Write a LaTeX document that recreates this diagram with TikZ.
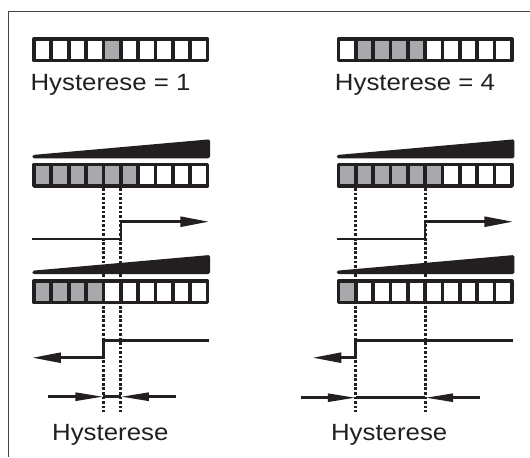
\documentclass[tikz,border=0pt]{standalone}
\usepackage{fontspec}
\newfontfamily\lab[FakeStretch=1.1]{Liberation Sans}
\usetikzlibrary{arrows.meta}
\definecolor{ink}{RGB}{35,31,32}
\definecolor{cellgray}{RGB}{167,169,172}
\definecolor{framegray}{RGB}{70,70,70}
\newcommand\mybar[3]{%
  \foreach \g in {#3} {\fill[cellgray] ({#1+\g*17.35},#2) rectangle ++(17.35,21.4);}
  \draw[barline] (#1,#2) rectangle ++(173.5,21.4);
  \foreach \k in {1,...,9} {\draw[barline] ({#1+\k*17.35},#2) -- ++(0,21.4);}
}
\begin{document}
\begin{tikzpicture}[x=0.75pt,y=-0.75pt,
  barline/.style={ink,line width=2.8pt,line join=round},
  sig/.style={ink,line width=1.9pt},
  sigarrow/.style={sig,-{Triangle[length=21.5pt,width=7.5pt]}},
  measarrow/.style={sig,-{Triangle[length=21pt,width=6pt]}},
  dots/.style={ink,line width=2.1pt,dash pattern=on 2pt off 1.4pt},
  ramp/.style={fill=ink,rounded corners=1.2pt},
  lbl/.style={inner sep=0pt,font=\lab\fontsize{17.6}{20}\selectfont,text=ink}]
\useasboundingbox (0,0) rectangle (530,457);
\fill[white] (0,0) rectangle (530,457);
% frame
\draw[framegray,line width=1pt] (8.7,457) -- (8.7,11.3) -- (530,11.3);

% named coordinates (dotted guide positions)
\coordinate (LA) at (103.4,188);  \coordinate (LAe) at (103.4,412);
\coordinate (LB) at (120.8,188);  \coordinate (LBe) at (120.8,412);
\coordinate (RA) at (355.75,188); \coordinate (RAe) at (355.75,412);
\coordinate (RB) at (425.15,188); \coordinate (RBe) at (425.15,412);

% dotted guides
\draw[dots] (LA) -- (LAe);
\draw[dots] (LB) -- (LBe);
\draw[dots] (RA) -- (RAe);
\draw[dots] (RB) -- (RBe);

% top bars
\mybar{34}{39.2}{4}
\mybar{338.4}{39.2}{1,2,3,4}
\node[lbl,anchor=base west] (t1) at (30.3,90) {Hysterese = 1};
\node[lbl,anchor=base west] (t4) at (334.7,90) {Hysterese = 4};

% ramps
\fill[ramp] (32.3,158.3) -- (210,158.3) -- (210,139.3) -- (32.3,155) -- cycle;
\fill[ramp] (336.7,158.3) -- (514.4,158.3) -- (514.4,139.3) -- (336.7,155) -- cycle;
\fill[ramp] (32.3,274) -- (210,274) -- (210,255) -- (32.3,270.7) -- cycle;
\fill[ramp] (336.7,274) -- (514.4,274) -- (514.4,255) -- (336.7,270.7) -- cycle;

% middle bars
\mybar{34}{164.6}{0,...,5}
\mybar{338.4}{164.6}{0,...,5}
% lower bars
\mybar{34}{281.2}{0,...,3}
\mybar{338.4}{281.2}{0}

% rising signals
\draw[sigarrow] (32.3,239) -- (LB |- 0,239) -- (LB |- 0,221.7) -- (209,221.7);
\draw[sigarrow] (336.7,239) -- (RB |- 0,239) -- (RB |- 0,221.7) -- (513,221.7);
% falling signals
\draw[sigarrow] (208.7,340.7) -- (LA |- 0,340.7) -- (LA |- 0,357.7) -- (32.3,357.7);
\draw[sigarrow] (512.7,340.7) -- (RA |- 0,340.7) -- (RA |- 0,357.7) -- (312.7,357.7);

% hysteresis width arrows
\draw[measarrow] (48.3,396.7) -- (LA |- 0,396.7);
\draw[measarrow] (175.7,396.7) -- (LB |- 0,396.7);
\draw[sig] (LA |- 0,396.7) -- (LB |- 0,396.7);
\draw[measarrow] (300.7,397.7) -- (RA |- 0,397.7);
\draw[measarrow] (480,397.7) -- (RB |- 0,397.7);
\draw[sig] (RA |- 0,397.7) -- (RB |- 0,397.7);

\node[lbl,anchor=base] (h1) at (110.3,440) {Hysterese};
\node[lbl,anchor=base] (h2) at (389.2,440) {Hysterese};
\end{tikzpicture}
\end{document}
